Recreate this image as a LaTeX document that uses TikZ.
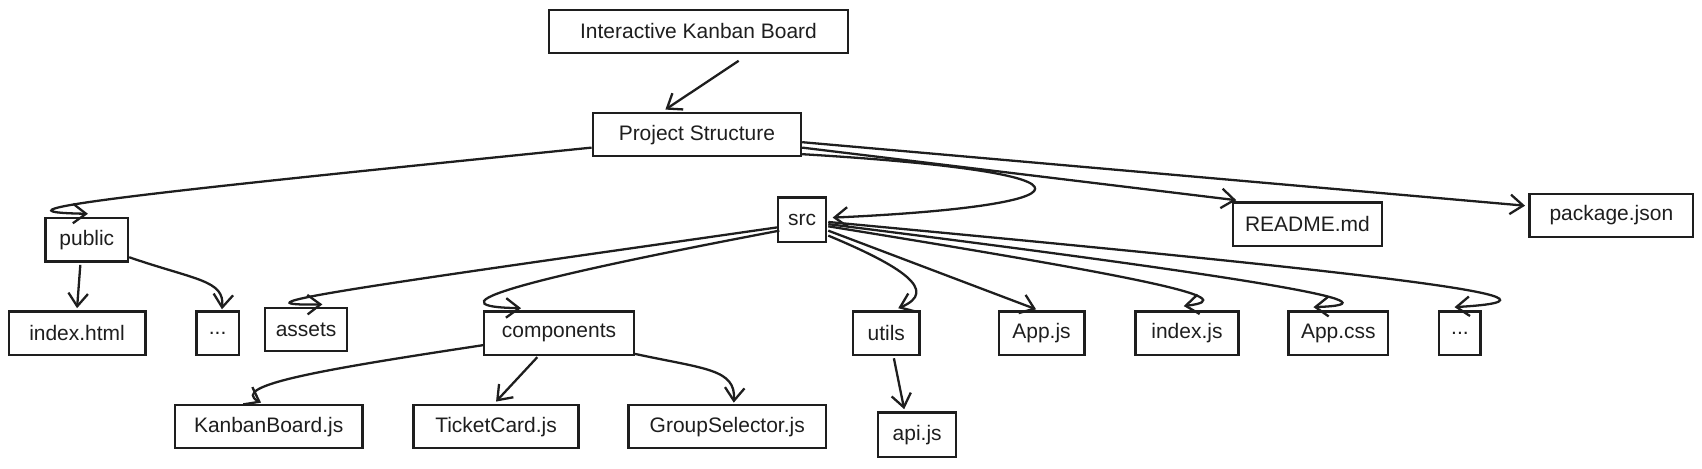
\documentclass[tikz,border=0pt]{standalone}
\usepackage{fontspec}
\setmainfont{Liberation Sans}
\usepackage{tikz}
\usetikzlibrary{arrows.meta,positioning,calc}
\definecolor{kbink}{HTML}{1E1E1E}
\tikzset{
  file/.style  = {rectangle, draw=kbink, line width=1.2pt, align=center,
                  minimum height=8mm, inner sep=2pt, text=kbink,
                  font=\fontsize{11}{13}\selectfont},
  link/.style  = {-{Straight Barb[length=2.4mm,width=3.6mm]}, line width=1.2pt, draw=kbink},
}
\begin{document}
\begin{tikzpicture}[x=0.02cm, y=-0.02cm]
\useasboundingbox (0,0) rectangle (1568,432);

% --- top
\node[file, minimum width=5.5cm]  (board) at (643.5,29) {Interactive Kanban Board};
\node[file, minimum width=3.84cm] (proj)  at (642,124)  {Project Structure};

% --- first level
\node[file, minimum width=1.52cm] (public) at (80,221)     {public};
\node[file, minimum width=0.88cm, minimum height=8.2mm] (src) at (739,202.5) {src};
\node[file, minimum width=2.74cm] (readme) at (1204.5,206.5) {README.md};
\node[file, minimum width=3.02cm] (pkg)    at (1484.5,198.5) {package.json};

% --- public / src contents
\node[file, minimum width=2.52cm] (indexhtml) at (71,307)    {index.html};
\node[file, minimum width=0.78cm] (pubmore)   at (200.5,307) {...};
\node[file, minimum width=1.52cm] (assets)    at (282,303.5) {assets};
\node[file, minimum width=2.76cm] (comps)     at (515,307)   {components};
\node[file, minimum width=1.22cm] (utils)     at (816.5,307) {utils};
\node[file, minimum width=1.58cm] (appjs)     at (959.5,307) {App.js};
\node[file, minimum width=1.9cm]  (indexjs)   at (1093.5,307) {index.js};
\node[file, minimum width=1.84cm] (appcss)    at (1233,307)  {App.css};
\node[file, minimum width=0.76cm] (srcmore)   at (1345,307)  {...};

% --- components / utils contents
\node[file, minimum width=3.46cm] (kanban)   at (247.5,393) {KanbanBoard.js};
\node[file, minimum width=3.04cm] (ticket)   at (457,393)   {TicketCard.js};
\node[file, minimum width=3.64cm] (groupsel) at (670,393)   {GroupSelector.js};
\node[file, minimum width=1.44cm, minimum height=8.2mm] (api) at (845,400.5) {api.js};

% --- arrows from the top
\draw[link] ($(board.south)+(37,6)$) -- ($(proj.north)+(-29,-2)$);
\draw[link] ($(proj.west)+(0,12)$) .. controls (150,176) and (-30,195) .. ($(public.north)+(1,-3)$);
\draw[link] ($(proj.south east)+(0,-3)$) .. controls (1040,160) and (1000,190) .. ($(src.east)+(5,-2)$);
\draw[link] ($(proj.east)+(0,12)$) -- ($(readme.north west)+(4,-1)$);
\draw[link] ($(proj.east)+(0,7)$) -- ($(pkg.west)+(-3,-9)$);

% --- public
\draw[link] ($(public.south)+(-6,2)$) -- ($(indexhtml.north)+(0,-2)$);
\draw[link] ($(public.east)+(0,16)$) .. controls (180,258) and (207,258) .. ($(pubmore.north)+(4,-1)$);

% --- src
\draw[link] ($(src.west)+(0,7)$) .. controls (350,262) and (200,282) .. ($(assets.north)+(15,-2)$);
\draw[link] ($(src.west)+(2,10)$) .. controls (520,250) and (380,282) .. ($(comps.north)+(-35,-2)$);
\draw[link] ($(src.south east)+(1,-7)$) .. controls (830,245) and (866,268) .. ($(utils.north)+(11,-2)$);
\draw[link] ($(src.east)+(1,10)$) -- ($(appjs.north)+(-5,-1)$);
\draw[link] ($(src.east)+(1,6)$) .. controls (1050,255) and (1150,275) .. ($(indexjs.north)+(-3,-4)$);
\draw[link] ($(src.east)+(1,4)$) .. controls (1150,255) and (1300,280) .. ($(appcss.north)+(-23,-3)$);
\draw[link] ($(src.east)+(1,2)$) .. controls (1250,250) and (1480,275) .. ($(srcmore.north)+(-5,-3)$);

% --- components, utils
\draw[link] ($(comps.west)+(0,11)$) .. controls (300,340) and (210,355) .. ($(kanban.north)+(-7,-1)$);
\draw[link] ($(comps.south)+(-20,1)$) -- ($(ticket.north)+(0,-2)$);
\draw[link] ($(comps.south east)+(0,-2)$) .. controls (650,340) and (678,340) .. ($(groupsel.north)+(6,-1)$);
\draw[link] ($(utils.south)+(7,2)$) -- ($(api.north)+(-12,-2)$);

\end{tikzpicture}
\end{document}
